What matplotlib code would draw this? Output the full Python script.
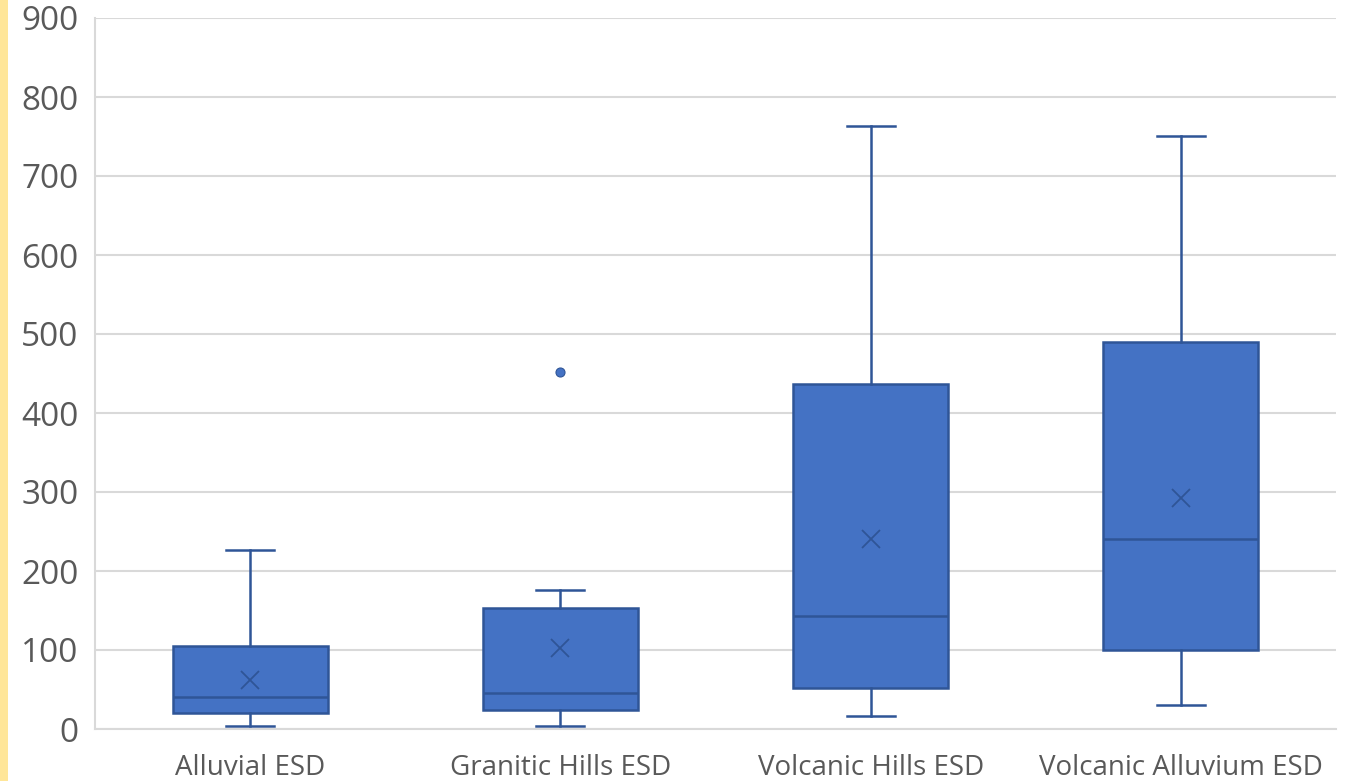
import matplotlib.pyplot as plt
from matplotlib.patches import Rectangle

# box plot summary per soil unit
categories = ['Alluvial ESD', 'Granitic Hills ESD', 'Volcanic Hills ESD', 'Volcanic Alluvium ESD']
whisker_low = [4, 4, 17, 30]
q1 = [20, 24, 52, 100]
median = [40, 45, 143, 240]
q3 = [105, 153, 437, 490]
whisker_high = [227, 176, 763, 751]
mean = [62, 102, 241, 292]
outliers = [[], [452], [], []]

y_ticks = list(range(0, 901, 100))

fill = '#4472C4'
edge = '#2F5597'
grid = '#D9D9D9'
text = '#595959'

stats = []
for i, name in enumerate(categories):
    stats.append({
        'label': name,
        'whislo': whisker_low[i],
        'q1': q1[i],
        'med': median[i],
        'q3': q3[i],
        'whishi': whisker_high[i],
        'mean': mean[i],
        'fliers': outliers[i],
    })

fig = plt.figure(figsize=(13.46, 7.81), dpi=100)
ax = fig.add_axes([95 / 1346, 52 / 781, 1241 / 1346, 711 / 781])

# yellow strip along the left edge
fig.patches.append(Rectangle((0, 0), 8 / 1346, 1, transform=fig.transFigure,
                             facecolor='#FFE699', edgecolor='none'))

positions = list(range(1, len(categories) + 1))
ax.bxp(stats, positions=positions, widths=0.5, capwidths=0.155,
       patch_artist=True, showmeans=True,
       boxprops=dict(facecolor=fill, edgecolor=edge, linewidth=1.8),
       medianprops=dict(color=edge, linewidth=1.8),
       whiskerprops=dict(color=edge, linewidth=1.8),
       capprops=dict(color=edge, linewidth=1.8),
       meanprops=dict(marker='x', markeredgecolor=edge, markersize=13,
                      markeredgewidth=1.3),
       flierprops=dict(marker='o', markerfacecolor=fill, markeredgecolor=edge,
                       markersize=6.5, markeredgewidth=0.8))

ax.set_xlim(0.5, len(categories) + 0.5)
ax.set_ylim(0, 900)
ax.set_yticks(y_ticks)
ax.set_xticks(positions)
ax.set_xticklabels(categories)

ax.yaxis.grid(True, color=grid, linewidth=1.5)
ax.set_axisbelow(True)
for side in ['top', 'right']:
    ax.spines[side].set_visible(False)
for side in ['left', 'bottom']:
    ax.spines[side].set_color(grid)
    ax.spines[side].set_linewidth(1.5)

ax.tick_params(axis='y', length=0, pad=12, labelsize=24, labelcolor=text)
ax.tick_params(axis='x', length=0, pad=18, labelsize=20, labelcolor=text)
for lbl in ax.get_xticklabels() + ax.get_yticklabels():
    lbl.set_fontfamily(['Open Sans', 'DejaVu Sans'])

fig.savefig('out.png', dpi=100, facecolor='white')
